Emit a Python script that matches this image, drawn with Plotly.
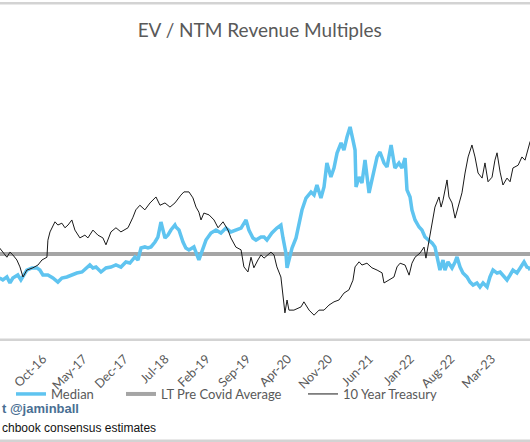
import plotly.graph_objects as go

# ---------------- data ----------------
median_dates = [
    "2016-02-18", "2016-03-06", "2016-03-27", "2016-04-12", "2016-04-27", "2016-05-23", "2016-06-08",
    "2016-06-19", "2016-07-09", "2016-08-05", "2016-08-31", "2016-09-15", "2016-10-01", "2016-10-27",
    "2016-11-22", "2016-12-18", "2017-01-08", "2017-02-03", "2017-03-01", "2017-03-27", "2017-04-23",
    "2017-05-19", "2017-06-03", "2017-06-19", "2017-07-05", "2017-07-31", "2017-08-26", "2017-09-21",
    "2017-10-17", "2017-11-12", "2017-12-08", "2017-12-29", "2018-01-24", "2018-02-09", "2018-02-25",
    "2018-03-17", "2018-04-02", "2018-04-18", "2018-05-09", "2018-05-24", "2018-06-09", "2018-06-30",
    "2018-07-16", "2018-07-31", "2018-08-21", "2018-08-26", "2018-09-11", "2018-10-02", "2018-10-17",
    "2018-11-02", "2018-11-28", "2018-12-24", "2019-01-14", "2019-01-30", "2019-02-25", "2019-03-23",
    "2019-04-18", "2019-05-14", "2019-06-09", "2019-07-05", "2019-08-01", "2019-08-27", "2019-09-11",
    "2019-10-02", "2019-10-18", "2019-11-13", "2019-11-29", "2019-12-14", "2020-01-09", "2020-02-04",
    "2020-02-25", "2020-03-07", "2020-03-22", "2020-03-28", "2020-04-12", "2020-04-23", "2020-05-14",
    "2020-05-29", "2020-06-14", "2020-07-05", "2020-07-31", "2020-08-16", "2020-08-31", "2020-09-21",
    "2020-10-07", "2020-10-22", "2020-11-12", "2020-11-28", "2020-12-14", "2021-01-04", "2021-01-19",
    "2021-02-04", "2021-02-20", "2021-03-07", "2021-03-18", "2021-03-23", "2021-04-08", "2021-04-23",
    "2021-05-09", "2021-05-30", "2021-06-14", "2021-07-11", "2021-07-26", "2021-08-16", "2021-09-01",
    "2021-09-22", "2021-10-12", "2021-11-02", "2021-11-18", "2021-12-04", "2021-12-14", "2021-12-30",
    "2022-01-09", "2022-01-25", "2022-02-15", "2022-03-02", "2022-03-18", "2022-04-08", "2022-04-24",
    "2022-05-09", "2022-05-25", "2022-06-04", "2022-06-20", "2022-06-30", "2022-07-16", "2022-08-06",
    "2022-08-22", "2022-09-01", "2022-09-17", "2022-10-02", "2022-10-23", "2022-11-08", "2022-11-24",
    "2022-12-14", "2022-12-30", "2023-01-15", "2023-02-05", "2023-02-20", "2023-03-08", "2023-03-29",
    "2023-04-14", "2023-04-29", "2023-05-20", "2023-06-05", "2023-06-20", "2023-07-11", "2023-07-27",
    "2023-08-17", "2023-09-01", "2023-09-12", "2023-09-18",
]
median_values = [
    5.40, 5.27, 5.47, 5.07, 5.40, 5.60, 5.27,
    5.47, 5.93, 6.07, 6.07, 5.93, 5.60, 5.60,
    5.40, 5.13, 5.40, 5.47, 5.60, 5.73, 5.80,
    6.07, 6.27, 6.07, 6.13, 5.80, 6.07, 6.13,
    6.27, 6.13, 6.47, 6.40, 6.80, 6.60, 7.40,
    7.47, 7.40, 7.47, 7.80, 8.13, 9.13, 8.07,
    8.27, 8.60, 8.93, 8.80, 8.60, 7.80, 7.40,
    7.27, 7.47, 6.60, 7.27, 7.93, 8.40, 8.60,
    8.40, 8.73, 8.47, 8.60, 8.73, 9.27, 8.60,
    8.07, 7.93, 8.13, 8.13, 7.93, 8.40, 8.73,
    8.93, 8.07, 7.07, 6.07, 6.80, 7.40, 8.07,
    8.93, 9.93, 10.73, 11.13, 10.93, 11.60, 10.73,
    11.47, 13.07, 12.13, 12.73, 13.73, 14.40, 13.93,
    14.80, 15.47, 14.60, 13.93, 11.47, 12.13, 11.73,
    13.27, 11.07, 11.93, 13.47, 13.80, 13.07, 12.80,
    14.27, 12.73, 13.07, 12.73, 13.40, 11.27, 10.80,
    9.93, 9.27, 8.80, 8.60, 8.13, 7.93, 7.73,
    7.47, 6.40, 5.93, 6.60, 5.93, 6.47, 6.07,
    6.47, 6.80, 6.13, 5.73, 5.47, 5.13, 4.93,
    5.07, 4.80, 5.07, 4.80, 5.47, 5.93, 5.73,
    5.80, 5.60, 5.27, 5.60, 5.93, 5.73, 6.07,
    6.47, 6.13, 6.07, 5.93,
]

treasury_dates = [
    "2016-02-18", "2016-03-06", "2016-03-27", "2016-04-12", "2016-04-27", "2016-05-18", "2016-06-03",
    "2016-06-19", "2016-07-09", "2016-08-10", "2016-09-05", "2016-09-26", "2016-10-22", "2016-10-27",
    "2016-11-07", "2016-12-03", "2016-12-18", "2017-01-08", "2017-01-24", "2017-02-09", "2017-03-01",
    "2017-03-17", "2017-04-12", "2017-05-08", "2017-05-24", "2017-06-19", "2017-07-15", "2017-08-10",
    "2017-08-26", "2017-09-21", "2017-10-17", "2017-11-12", "2017-12-19", "2018-01-14", "2018-01-29",
    "2018-02-19", "2018-03-17", "2018-04-13", "2018-04-28", "2018-05-14", "2018-06-04", "2018-06-30",
    "2018-07-26", "2018-08-21", "2018-09-21", "2018-10-07", "2018-11-02", "2018-11-23", "2018-12-09",
    "2018-12-24", "2019-01-04", "2019-01-19", "2019-02-15", "2019-03-13", "2019-04-03", "2019-04-29",
    "2019-05-25", "2019-06-09", "2019-07-05", "2019-08-01", "2019-08-16", "2019-09-06", "2019-09-22",
    "2019-10-07", "2019-10-28", "2019-11-13", "2019-11-29", "2020-01-04", "2020-01-20", "2020-02-04",
    "2020-02-25", "2020-03-07", "2020-03-17", "2020-03-28", "2020-04-07", "2020-05-03", "2020-06-09",
    "2020-06-24", "2020-07-21", "2020-08-16", "2020-09-11", "2020-10-07", "2020-11-02", "2020-11-28",
    "2020-12-24", "2021-01-19", "2021-02-14", "2021-03-07", "2021-03-18", "2021-04-08", "2021-04-23",
    "2021-05-19", "2021-06-14", "2021-07-11", "2021-08-06", "2021-08-16", "2021-09-11", "2021-10-07",
    "2021-10-23", "2021-11-08", "2021-12-04", "2021-12-25", "2022-01-09", "2022-01-25", "2022-02-20",
    "2022-03-13", "2022-03-23", "2022-04-08", "2022-04-24", "2022-05-09", "2022-05-30", "2022-06-10",
    "2022-06-20", "2022-07-11", "2022-07-21", "2022-08-06", "2022-08-22", "2022-09-06", "2022-09-27",
    "2022-10-13", "2022-10-29", "2022-11-18", "2022-12-04", "2022-12-20", "2023-01-10", "2023-01-25",
    "2023-02-10", "2023-03-03", "2023-03-18", "2023-03-29", "2023-04-14", "2023-04-29", "2023-05-20",
    "2023-06-05", "2023-06-20", "2023-07-17", "2023-08-06", "2023-08-22", "2023-09-12", "2023-09-18",
]
treasury_values = [
    2.00, 1.91, 1.80, 1.91, 1.85, 1.74, 1.59,
    1.37, 1.52, 1.57, 1.63, 1.74, 1.80, 2.17,
    2.35, 2.57, 2.50, 2.54, 2.44, 2.50, 2.61,
    2.39, 2.22, 2.28, 2.22, 2.39, 2.28, 2.22,
    2.07, 2.35, 2.44, 2.35, 2.44, 2.67, 2.83,
    2.93, 2.83, 2.98, 3.04, 3.11, 2.93, 2.98,
    2.89, 2.98, 3.15, 3.22, 3.22, 3.09, 2.89,
    2.78, 2.61, 2.76, 2.72, 2.61, 2.44, 2.57,
    2.39, 2.22, 2.02, 1.96, 1.59, 1.48, 1.80,
    1.57, 1.74, 1.85, 1.78, 1.91, 1.85, 1.59,
    1.37, 0.94, 0.59, 0.87, 0.65, 0.65, 0.72,
    0.83, 0.65, 0.54, 0.65, 0.65, 0.76, 0.83,
    0.87, 1.02, 1.09, 1.30, 1.59, 1.70, 1.63,
    1.67, 1.57, 1.52, 1.46, 1.24, 1.30, 1.37,
    1.59, 1.67, 1.63, 1.41, 1.67, 1.80, 1.89,
    2.02, 1.78, 2.17, 2.54, 2.89, 3.11, 2.89,
    3.04, 3.48, 3.11, 2.98, 2.65, 2.89, 3.20,
    3.63, 3.98, 4.24, 3.98, 3.63, 3.52, 3.85,
    3.44, 3.54, 3.91, 4.07, 3.65, 3.37, 3.52,
    3.44, 3.74, 3.80, 3.98, 3.91, 4.28, 4.32,
]

lt_avg_dates = ["2016-02-18", "2023-09-18"]
lt_avg_values = [7.0, 7.0]

tick_dates = ["2016-03-01", "2016-10-01", "2017-05-01", "2017-12-01", "2018-07-01", "2019-02-01",
              "2019-09-01", "2020-04-01", "2020-11-01", "2021-06-01", "2022-01-01", "2022-08-01",
              "2023-03-01", "2023-10-01"]
tick_labels = ["Mar-16", "Oct-16", "May-17", "Dec-17", "Jul-18", "Feb-19", "Sep-19", "Apr-20",
               "Nov-20", "Jun-21", "Jan-22", "Aug-22", "Mar-23", "Oct-23"]

# ---------------- figure ----------------
TXT = "#595959"
FONT = "Lato, 'Open Sans', sans-serif"
LEG_Y = (339 - 394) / 279
RULE = "#d3d3d3"


def band(p_top, p_bottom):
    """Thin filled horizontal band between two pixel rows (plot area spans px 60..339)."""
    return dict(type="rect", xref="paper", yref="paper", x0=-0.02, x1=1.02,
                y0=(339 - p_bottom) / 279, y1=(339 - p_top) / 279,
                fillcolor=RULE, line=dict(width=0), layer="above")


fig = go.Figure()
fig.add_trace(go.Scatter(x=lt_avg_dates, y=lt_avg_values, mode="lines", name="LT Pre Covid Average",
                         line=dict(color="#a5a5a5", width=4), legend="legend2", yaxis="y"))
fig.add_trace(go.Scatter(x=median_dates, y=median_values, mode="lines", name="Median",
                         line=dict(color="#5fc4f0", width=3.5), legend="legend", yaxis="y"))
fig.add_trace(go.Scatter(x=treasury_dates, y=treasury_values, mode="lines", name="10 Year Treasury",
                         line=dict(color="#1a1a1a", width=1), legend="legend3", yaxis="y2"))

leg_common = dict(orientation="h", xanchor="left", y=LEG_Y, yanchor="middle",
                  font=dict(family=FONT, size=13, color=TXT), itemwidth=30,
                  bgcolor="rgba(0,0,0,0)")

fig.update_layout(
    width=530, height=442,
    margin=dict(l=0, r=0, t=60, b=103),
    paper_bgcolor="white", plot_bgcolor="white",
    title=dict(text="EV / NTM Revenue Multiples", x=0.49, xanchor="center", y=0.932, yanchor="middle",
               font=dict(family=FONT, size=19, color=TXT)),
    font=dict(family=FONT, color=TXT),
    xaxis=dict(type="date", range=["2016-02-20", "2023-09-17"], tickmode="array",
               tickvals=tick_dates, ticktext=tick_labels, tickangle=-45,
               tickfont=dict(family=FONT, size=12.5, color=TXT), ticklabelstandoff=6,
               showgrid=False, zeroline=False, showline=True, linecolor=RULE, linewidth=1.5,
               ticks="", ticklen=0),
    yaxis=dict(range=[1.3333, 19.9333], visible=False, showgrid=False),
    yaxis2=dict(range=[0.0222, 6.0874], overlaying="y", side="right", visible=False, showgrid=False),
    legend=dict(x=11 / 530, **leg_common),
    legend2=dict(x=121 / 530, **leg_common),
    legend3=dict(x=303 / 530, **leg_common),
    showlegend=True,
    shapes=[band(2, 4.5), band(338.5, 340.5), band(439.5, 442)],
    annotations=[
        dict(text="<b>t @jaminball</b>", xref="paper", yref="paper", x=0, xanchor="left",
             y=(339 - 408) / 279, yanchor="middle", showarrow=False,
             font=dict(family="Liberation Sans, Arial, sans-serif", size=13, color="#4a6f93")),
        dict(text="chbook consensus estimates", xref="paper", yref="paper", x=0, xanchor="left",
             y=(339 - 428) / 279, yanchor="middle", showarrow=False,
             font=dict(family="Liberation Sans, Arial, sans-serif", size=12, color="#111111")),
    ],
)

post = (
    "document.body.style.margin='0px';"
    "document.body.style.overflow='hidden';"
)
fig.write_html("out.html", config={"displayModeBar": False}, post_script=post)
